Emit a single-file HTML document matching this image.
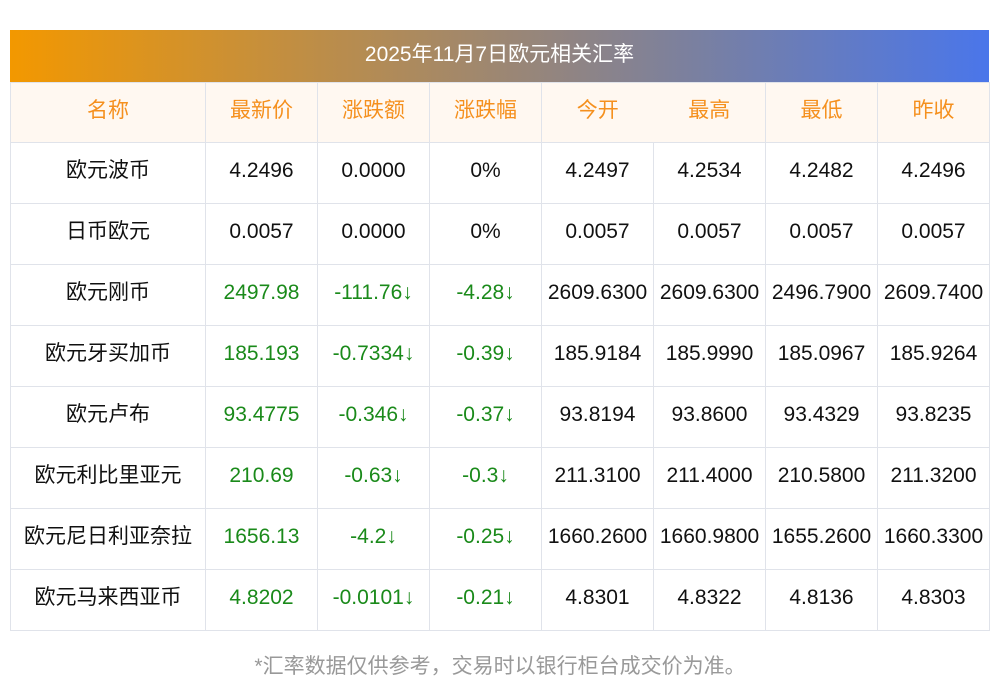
<!DOCTYPE html>
<html><head><meta charset="utf-8"><style>
body{margin:0;background:#fff;width:1000px;height:697px;position:relative;font-family:"Liberation Sans","Noto Sans CJK SC",sans-serif;}
.bar{position:absolute;left:10px;top:30px;width:979px;height:52px;background:linear-gradient(90deg,#f39800,#7a80a0 70%,#4a76ea);color:#fff;font-size:21px;line-height:50px;text-align:center;}
table{position:absolute;left:10px;top:82px;border-collapse:collapse;width:979px;table-layout:fixed;}
td{border:1px solid #e0e3ea;height:61px;text-align:center;vertical-align:middle;font-size:21px;line-height:22px;color:#111;padding:0 0 4px 0;white-space:nowrap;box-sizing:border-box;}
tr.h td{background:#fff8f1;color:#f5901e;height:60px;padding-bottom:4px;}
.g{color:#1a8a1a;}
.foot{position:absolute;left:0;top:650px;width:1000px;text-align:center;font-size:21px;color:#999;}
</style></head><body>
<div class="bar">2025年11月7日欧元相关汇率</div>
<table>
<colgroup><col style="width:195px"><col style="width:112px"><col style="width:112px"><col style="width:112px"><col style="width:112px"><col style="width:112px"><col style="width:112px"><col style="width:112px"></colgroup>
<tr class="h"><td>名称</td><td>最新价</td><td>涨跌额</td><td>涨跌幅</td><td style="border-right:none">今开</td><td style="border-left:none">最高</td><td>最低</td><td>昨收</td></tr>
<tr><td>欧元波币</td><td>4.2496</td><td>0.0000</td><td>0%</td><td>4.2497</td><td>4.2534</td><td>4.2482</td><td>4.2496</td></tr>
<tr><td>日币欧元</td><td>0.0057</td><td>0.0000</td><td>0%</td><td>0.0057</td><td>0.0057</td><td>0.0057</td><td>0.0057</td></tr>
<tr><td>欧元刚币</td><td class="g">2497.98</td><td class="g">-111.76↓</td><td class="g">-4.28↓</td><td>2609.6300</td><td>2609.6300</td><td>2496.7900</td><td>2609.7400</td></tr>
<tr><td>欧元牙买加币</td><td class="g">185.193</td><td class="g">-0.7334↓</td><td class="g">-0.39↓</td><td>185.9184</td><td>185.9990</td><td>185.0967</td><td>185.9264</td></tr>
<tr><td>欧元卢布</td><td class="g">93.4775</td><td class="g">-0.346↓</td><td class="g">-0.37↓</td><td>93.8194</td><td>93.8600</td><td>93.4329</td><td>93.8235</td></tr>
<tr><td>欧元利比里亚元</td><td class="g">210.69</td><td class="g">-0.63↓</td><td class="g">-0.3↓</td><td>211.3100</td><td>211.4000</td><td>210.5800</td><td>211.3200</td></tr>
<tr><td>欧元尼日利亚奈拉</td><td class="g">1656.13</td><td class="g">-4.2↓</td><td class="g">-0.25↓</td><td>1660.2600</td><td>1660.9800</td><td>1655.2600</td><td>1660.3300</td></tr>
<tr><td>欧元马来西亚币</td><td class="g">4.8202</td><td class="g">-0.0101↓</td><td class="g">-0.21↓</td><td>4.8301</td><td>4.8322</td><td>4.8136</td><td>4.8303</td></tr>
</table>
<div class="foot">*汇率数据仅供参考，交易时以银行柜台成交价为准。</div>
</body></html>
